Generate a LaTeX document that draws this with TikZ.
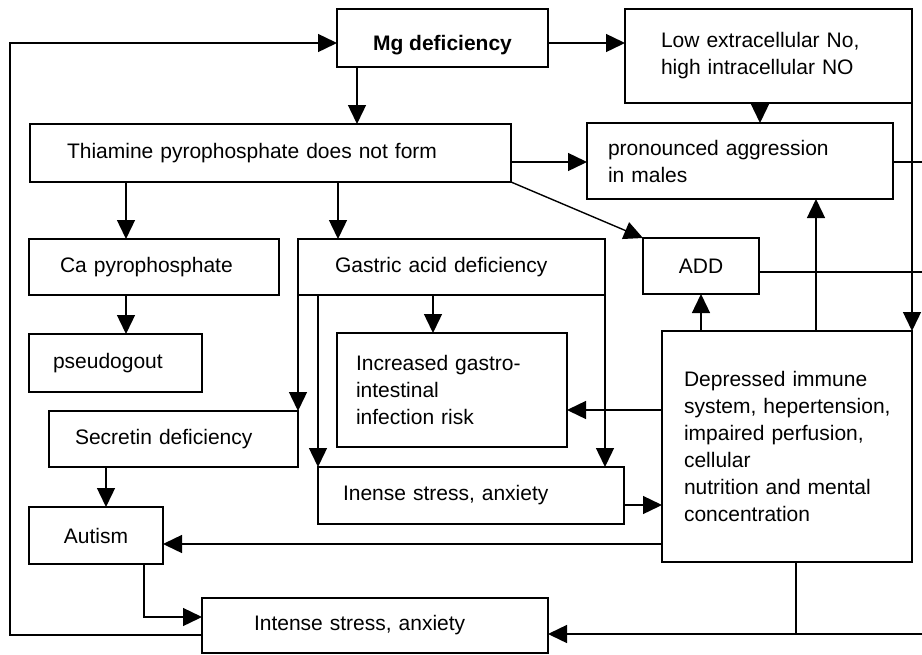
\documentclass[tikz,border=0pt]{standalone}
\usepackage{fontspec}
\setmainfont{Liberation Sans}
\usetikzlibrary{arrows.meta}
\begin{document}
\begin{tikzpicture}[x=1pt,y=-1pt,
  box/.style={draw, rectangle, line width=1.4pt, outer sep=0pt, inner ysep=0pt,
              font=\fontsize{21}{27}\selectfont},
  lbox/.style={box, align=left},
  cbox/.style={box, align=center, inner xsep=0pt},
  ln/.style={line width=1.4pt},
  arr/.style={line width=1.4pt, -{Triangle[length=19pt,width=18pt]}}]
\useasboundingbox (0,0) rectangle (922,654);

% boxes
\node[cbox, minimum width=211pt, minimum height=58pt, text height=25pt, text depth=0pt,
      font=\fontsize{21}{27}\selectfont\bfseries]
  (mg) at (442.5,38) {Mg deficiency};
\node[lbox, minimum width=287pt, minimum height=94pt, text width=215pt, inner xsep=36pt]
  (low) at (768.5,56) {Low extracellular No,\\high intracellular NO};
\node[lbox, minimum width=481pt, minimum height=58pt, text width=407pt, inner xsep=37pt]
  (thia) at (270.5,153) {Thiamine pyrophosphate does not form};
\node[lbox, minimum width=306pt, minimum height=76pt, text width=264pt, inner xsep=21pt]
  (aggr) at (740,161) {pronounced aggression\\in males};
\node[lbox, minimum width=250pt, minimum height=56pt, text width=188pt, inner xsep=31pt]
  (ca) at (154,267) {Ca pyrophosphate};
\node[lbox, minimum width=307pt, minimum height=56pt, text width=233pt, inner xsep=37pt]
  (gastric) at (451.5,267) {Gastric acid deficiency};
\node[cbox, minimum width=116pt, minimum height=56pt]
  (add) at (701,266) {ADD};
\node[lbox, minimum width=173pt, minimum height=58pt, text width=125pt, inner xsep=24pt]
  (pseudo) at (115.5,363) {pseudogout};
\node[lbox, minimum width=230pt, minimum height=114pt, text width=192pt, inner xsep=19pt]
  (incr) at (452,390) {Increased gastro-\\intestinal\\infection risk};
\node[lbox, minimum width=250pt, minimum height=231pt, text width=206pt, inner xsep=22pt]
  (dep) at (787,446.5) {Depressed immune\\\mbox{system, hepertension,}\\impaired perfusion,\\cellular\\nutrition and mental\\concentration};
\node[lbox, minimum width=249pt, minimum height=56pt, text width=197pt, inner xsep=26pt]
  (secr) at (173.5,439) {Secretin deficiency};
\node[lbox, minimum width=306pt, minimum height=57pt, text width=256pt, inner xsep=25pt]
  (inense) at (471,495.5) {Inense stress, anxiety};
\node[cbox, minimum width=134pt, minimum height=57pt]
  (autism) at (96,535.5) {Autism};
\node[lbox, minimum width=346pt, minimum height=55pt, text width=242pt, inner xsep=52pt]
  (intense) at (375,625.5) {Intense stress, anxiety};

% routing points
\coordinate (mgY) at (0,43);
\coordinate (mgThiaX) at (357,0);
\coordinate (lowAggrX) at (760,0);
\coordinate (thiaAggrY) at (0,162);
\coordinate (thiaCaX) at (126,0);
\coordinate (thiaGasX) at (338,0);
\coordinate (gasIncrX) at (433,0);
\coordinate (depIncrY) at (0,410);
\coordinate (inDepY) at (0,505);
\coordinate (depAggrX) at (816,0);
\coordinate (addOutY) at (0,272);
\coordinate (depAutY) at (0,544);
\coordinate (secAutX) at (106,0);
\coordinate (auK) at (144,617);
\coordinate (lpB) at (10,635);
\coordinate (lpT) at (10,43);
\coordinate (dpK) at (796,634);
\coordinate (edgeR) at (922,0);

% connectors
\draw[arr] (mg.east |- mgY) -- (low.west |- mgY);
\draw[arr] (mg.south -| mgThiaX) -- (thia.north -| mgThiaX);
\draw[arr] (low.south -| lowAggrX) -- (aggr.north -| lowAggrX);
\draw[arr] (thia.east |- thiaAggrY) -- (aggr.west |- thiaAggrY);
\draw[arr] (thia.south east) -- (add.north west);
\draw[arr] (thia.south -| thiaCaX) -- (ca.north -| thiaCaX);
\draw[arr] (thia.south -| thiaGasX) -- (gastric.north -| thiaGasX);
\draw[arr] (ca.south -| thiaCaX) -- (pseudo.north -| thiaCaX);
\draw[arr] (gastric.south west) -- (secr.north east);
\draw[arr] (gastric.south -| inense.north west) -- (inense.north west);
\draw[arr] (gastric.south -| gasIncrX) -- (incr.north -| gasIncrX);
\draw[arr] (gastric.south east) -- (inense.north -| gastric.south east);
\draw[arr] (low.south east) -- (dep.north east);
\draw[arr] (dep.west |- depIncrY) -- (incr.east |- depIncrY);
\draw[arr] (inense.east |- inDepY) -- (dep.west |- inDepY);
\draw[arr] (dep.north -| add.south) -- (add.south);
\draw[arr] (dep.north -| depAggrX) -- (aggr.south -| depAggrX);
\draw[ln] (aggr.east |- thiaAggrY) -- (edgeR |- thiaAggrY);
\draw[ln] (add.east |- addOutY) -- (edgeR |- addOutY);
\draw[arr] (dep.west |- depAutY) -- (autism.east |- depAutY);
\draw[arr] (secr.south -| secAutX) -- (autism.north -| secAutX);
\draw[arr] (autism.south -| auK) -- (auK) -- (intense.west |- auK);
\draw[arr] (intense.west |- lpB) -- (lpB) -- (lpT) -- (mg.west |- lpT);
\draw[ln] (dep.south -| dpK) -- (dpK);
\draw[arr] (edgeR |- dpK) -- (intense.east |- dpK);
\end{tikzpicture}
\end{document}
